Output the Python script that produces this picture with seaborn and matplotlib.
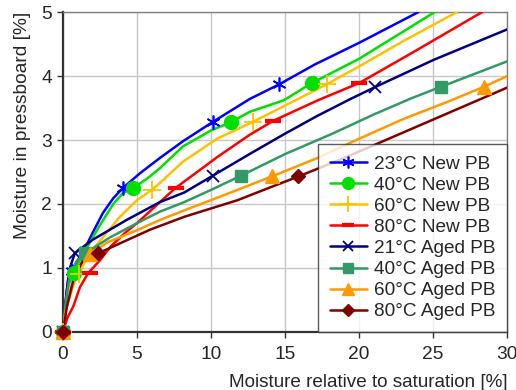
import numpy as np
import pandas as pd
import seaborn as sns
import matplotlib
matplotlib.use("Agg")
import matplotlib.pyplot as plt
from matplotlib.lines import Line2D

# curve points and marker points per series
blue_x = [0, 0.15, 0.34, 0.6, 1.0, 1.49, 2.03, 2.7, 3.4, 4.05, 5.2, 6.55, 8.1, 10.1, 12.6, 14.6, 17.0, 20.0, 24.0]
blue_y = [0, 0.4, 0.81, 0.95, 1.12, 1.31, 1.56, 1.86, 2.09, 2.25, 2.48, 2.72, 2.98, 3.28, 3.64, 3.87, 4.18, 4.52, 5.0]
blue_mx = [0, 0.6, 4.05, 10.1, 14.6]
blue_my = [0, 0.95, 2.25, 3.28, 3.87]

green_x = [0, 0.15, 0.4, 0.75, 1.1, 1.6, 2.5, 3.4, 4.05, 4.75, 5.7, 6.55, 8.1, 10.0, 11.35, 12.6, 14.9, 16.8, 20.0, 25.1]
green_y = [0, 0.35, 0.75, 0.92, 1.1, 1.31, 1.67, 2.0, 2.17, 2.25, 2.4, 2.56, 2.9, 3.15, 3.28, 3.44, 3.62, 3.89, 4.27, 5.0]
green_mx = [0, 0.75, 4.75, 11.35, 16.8]
green_my = [0, 0.92, 2.25, 3.28, 3.89]

yellow_x = [0, 0.2, 0.5, 1.1, 1.6, 2.7, 3.85, 5.0, 6.0, 6.55, 8.1, 10.4, 12.8, 14.5, 17.8, 20.0, 23.0, 26.6]
yellow_y = [0, 0.35, 0.7, 0.9, 1.17, 1.48, 1.8, 2.06, 2.22, 2.33, 2.66, 3.02, 3.28, 3.48, 3.87, 4.15, 4.55, 5.0]
yellow_mx = [0, 1.1, 6.0, 12.8, 17.8]
yellow_my = [0, 0.9, 2.22, 3.28, 3.87]

red_x = [0, 0.3, 0.7, 1.15, 1.7, 2.5, 3.2, 4.2, 5.0, 6.55, 7.6, 10.4, 12.6, 14.2, 17.2, 20.0, 24.0, 28.3]
red_y = [0, 0.22, 0.4, 0.7, 0.92, 1.12, 1.33, 1.55, 1.7, 2.03, 2.25, 2.73, 3.08, 3.3, 3.62, 3.89, 4.42, 5.0]
red_mx = [0, 1.8, 7.6, 14.2, 20.0]
red_my = [0, 0.92, 2.25, 3.3, 3.89]

navy_x = [0, 0.1, 0.27, 0.47, 0.8, 2.0, 4.3, 6.55, 8.2, 10.1, 12.6, 15.0, 17.2, 19.4, 21.1, 25.0, 30.0]
navy_y = [0, 0.3, 0.66, 1.0, 1.23, 1.44, 1.75, 2.03, 2.18, 2.44, 2.78, 3.1, 3.38, 3.64, 3.83, 4.25, 4.73]
navy_mx = [0, 0.8, 10.1, 21.1]
navy_my = [0, 1.23, 2.44, 3.83]

sea_x = [0, 0.15, 0.4, 0.9, 1.5, 3.2, 5.0, 6.55, 8.2, 10.0, 12.0, 15.0, 18.2, 21.0, 23.5, 25.5, 30.0]
sea_y = [0, 0.4, 0.8, 1.1, 1.23, 1.48, 1.7, 1.88, 2.03, 2.22, 2.44, 2.78, 3.1, 3.4, 3.65, 3.83, 4.23]
sea_mx = [0, 1.5, 12.0, 25.5]
sea_my = [0, 1.23, 2.44, 3.83]

orange_x = [0, 0.15, 0.6, 1.15, 1.8, 3.0, 5.1, 6.55, 8.2, 11.0, 14.1, 17.2, 20.0, 23.0, 26.0, 28.4, 30.0]
orange_y = [0, 0.3, 0.66, 1.05, 1.21, 1.4, 1.6, 1.75, 1.9, 2.15, 2.43, 2.72, 3.02, 3.33, 3.6, 3.83, 4.0]
orange_mx = [0, 1.8, 14.1, 28.4]
orange_my = [0, 1.21, 2.43, 3.83]

dred_x = [0, 0.27, 0.7, 1.35, 2.4, 4.0, 5.9, 8.2, 10.0, 11.8, 14.0, 15.9, 19.0, 22.0, 26.0, 30.0]
dred_y = [0, 0.4, 0.81, 1.12, 1.23, 1.4, 1.6, 1.8, 1.93, 2.06, 2.26, 2.43, 2.72, 3.02, 3.42, 3.82]
dred_mx = [0, 2.4, 15.9]
dred_my = [0, 1.23, 2.43]

labels = ["23°C New PB", "40°C New PB", "60°C New PB", "80°C New PB",
          "21°C Aged PB", "40°C Aged PB", "60°C Aged PB", "80°C Aged PB"]

series = [
    (blue_x, blue_y, blue_mx, blue_my, "#0000FF", (6, 2, 0), 10, 1.2),
    (green_x, green_y, green_mx, green_my, "#00E000", "o", 10, 1.0),
    (yellow_x, yellow_y, yellow_mx, yellow_my, "#FFC000", "+", 13, 1.3),
    (red_x, red_y, red_mx, red_my, "#FF0000", "_", 11, 3.0),
    (navy_x, navy_y, navy_mx, navy_my, "#000080", "x", 9, 1.3),
    (sea_x, sea_y, sea_mx, sea_my, "#339966", "s", 9, 1.0),
    (orange_x, orange_y, orange_mx, orange_my, "#FF9900", "^", 10, 1.0),
    (dred_x, dred_y, dred_mx, dred_my, "#800000", "D", 7.5, 1.0),
]

sns.set_style("white")
plt.rcParams['font.family'] = ['Liberation Sans', 'DejaVu Sans']

fig, ax = plt.subplots(figsize=(5.16, 3.9), dpi=100)
fig.subplots_adjust(left=0.122, right=0.983, top=0.969, bottom=0.149)

handles = []
for (cx, cy, mx, my, col, mk, ms, mew), lab in zip(series, labels):
    sns.lineplot(x=cx, y=cy, ax=ax, color=col, linewidth=1.8, sort=False,
                 estimator=None, zorder=3)
    ax.plot(mx, my, linestyle="none", marker=mk, markersize=ms, color=col,
            markeredgecolor=col, markeredgewidth=mew, zorder=4, clip_on=False)
    handles.append(Line2D([], [], color=col, linewidth=1.8, marker=mk,
                          markersize=ms * 0.85, markeredgewidth=mew, label=lab))

ax.set_xlim(0, 30)
ax.set_ylim(0, 5)
ax.set_xticks(range(0, 31, 5))
ax.set_yticks(range(0, 6))
ax.grid(True, color="#C8C8C8", linewidth=1.0)
ax.set_axisbelow(True)
ax.tick_params(axis="both", labelsize=13.8, direction="out", length=4, width=1,
               left=True, bottom=True, color="#333333")
ax.tick_params(axis="y", pad=4)
ax.tick_params(axis="x", pad=6)
for s in ["left", "bottom"]:
    ax.spines[s].set_color("#333333")
    ax.spines[s].set_linewidth(1.6)
for s in ["top", "right"]:
    ax.spines[s].set_color("#808080")
    ax.spines[s].set_linewidth(1.0)

ax.set_xlabel("Moisture relative to saturation [%]", fontsize=13.6, loc="right", labelpad=8)
ax.set_ylabel("Moisture in pressboard [%]", fontsize=13.8, loc="top", labelpad=7)

leg = ax.legend(handles=handles, loc="lower right", fontsize=13.7, frameon=True,
                fancybox=False, borderaxespad=0, handlelength=1.95,
                labelspacing=0.2, borderpad=0.6, handletextpad=0.4)
leg.get_frame().set_edgecolor("#333333")
leg.get_frame().set_linewidth(1.0)
leg.set_zorder(10)

fig.savefig("out.png", dpi=100)
